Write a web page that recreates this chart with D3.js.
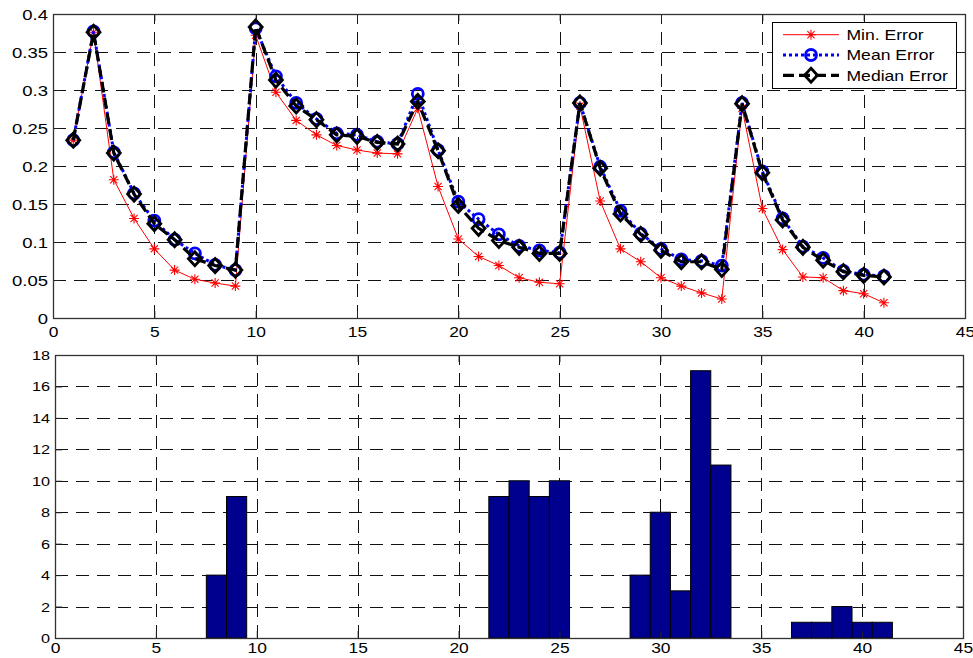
<!DOCTYPE html>
<html>
<head>
<meta charset="utf-8">
<script src="https://d3js.org/d3.v7.min.js"></script>
<style>
  html, body { margin: 0; padding: 0; background: #fff; }
  svg { display: block; }
  text { font-family: "Liberation Sans", Arial, Helvetica, sans-serif; fill: #000; }
</style>
</head>
<body>
<svg id="chart" width="973" height="658"></svg>
<script>
// ---------------- data ----------------
const iterations = [1,2,3,4,5,6,7,8,9,10,11,12,13,14,15,16,17,18,19,20,21,22,23,24,25,26,27,28,29,30,31,32,33,34,35,36,37,38,39,40,41];
const minError = [0.234,0.376,0.182,0.131,0.091,0.063,0.051,0.046,0.042,0.372,0.297,0.260,0.241,0.227,0.221,0.217,0.216,0.276,0.173,0.104,0.081,0.069,0.053,0.047,0.045,0.279,0.154,0.091,0.074,0.053,0.042,0.033,0.025,0.276,0.144,0.090,0.054,0.053,0.036,0.032,0.020];
const meanError = [0.234,0.377,0.218,0.164,0.128,0.103,0.085,0.070,0.063,0.381,0.318,0.283,0.262,0.243,0.241,0.232,0.229,0.295,0.221,0.153,0.130,0.110,0.095,0.089,0.086,0.283,0.199,0.141,0.111,0.091,0.077,0.075,0.069,0.283,0.193,0.131,0.094,0.079,0.062,0.057,0.055];
const medianError = [0.234,0.376,0.217,0.163,0.124,0.103,0.078,0.069,0.063,0.383,0.313,0.279,0.261,0.241,0.239,0.231,0.229,0.285,0.220,0.148,0.118,0.102,0.093,0.085,0.085,0.283,0.197,0.137,0.110,0.089,0.074,0.074,0.064,0.282,0.191,0.129,0.093,0.076,0.061,0.056,0.054];
const seriesNames = ["Min. Error", "Mean Error", "Median Error"];

const barCenters = [8,9,22,23,24,25,29,30,31,32,33,37,38,39,40,41];
const barCounts  = [4,9,9,10,9,10,4,8,3,17,11,1,1,2,1,1];

const xTicks = [0,5,10,15,20,25,30,35,40,45];
const topYTicks = [0,0.05,0.1,0.15,0.2,0.25,0.3,0.35,0.4];
const topYLabels = ["0","0.05","0.1","0.15","0.2","0.25","0.3","0.35","0.4"];
const botYTicks = [0,2,4,6,8,10,12,14,16,18];

// ---------------- helpers ----------------
const svg = d3.select("#chart");
function stretch(sel, f) {
  sel.each(function () {
    const L = this.getComputedTextLength();
    this.setAttribute("textLength", (L * f).toFixed(2));
    this.setAttribute("lengthAdjust", "spacingAndGlyphs");
  });
}
const gridColor = "#111";
const dash = "13,8";
const px = v => Math.round(v) + 0.5;

function drawFrame(g, x, y, yTicks) {
  const [x0, x1] = x.range();
  const [y0, y1] = y.range(); // y0 bottom, y1 top
  g.append("g").selectAll("line").data(xTicks.filter(t => t > x.domain()[0] && t < x.domain()[1]))
    .join("line")
    .attr("x1", d => px(x(d))).attr("x2", d => px(x(d)))
    .attr("y1", y0).attr("y2", y1)
    .attr("stroke", gridColor).attr("stroke-width", 1).attr("stroke-dasharray", dash)
    .attr("shape-rendering", "crispEdges");
  g.append("g").selectAll("line").data(yTicks.filter(t => t > y.domain()[0] && t < y.domain()[1]))
    .join("line")
    .attr("x1", x0).attr("x2", x1)
    .attr("y1", d => px(y(d))).attr("y2", d => px(y(d)))
    .attr("stroke", gridColor).attr("stroke-width", 1).attr("stroke-dasharray", dash)
    .attr("shape-rendering", "crispEdges");
}

function drawAxes(g, x, y, yTicks, yFmt, fsX, fsY, stX, stY, yLabelRight, xLabelBase) {
  const [x0, x1] = x.range();
  const [y0, y1] = y.range();
  const ax = g.append("g").attr("transform", `translate(0,${y0})`)
    .call(d3.axisBottom(x).tickValues(xTicks).tickSize(-7).tickPadding(0).tickFormat(d3.format("d")));
  ax.select(".domain").remove();
  ax.selectAll(".tick line").attr("stroke", "#222");
  ax.selectAll(".tick text").attr("y", xLabelBase - y0).attr("dy", null)
    .style("font-size", fsX + "px").style("font-family", "'Liberation Sans', Arial, sans-serif");
  stretch(ax.selectAll(".tick text"), stX);
  const axT = g.append("g").attr("transform", `translate(0,${y1})`)
    .call(d3.axisTop(x).tickValues(xTicks).tickSize(-7).tickFormat(""));
  axT.select(".domain").remove();
  axT.selectAll(".tick line").attr("stroke", "#222");
  const ay = g.append("g").attr("transform", `translate(${x0},0)`)
    .call(d3.axisLeft(y).tickValues(yTicks).tickSize(-7).tickPadding(0).tickFormat(yFmt));
  ay.select(".domain").remove();
  ay.selectAll(".tick line").attr("stroke", "#222");
  ay.selectAll(".tick text").attr("x", yLabelRight - x0).attr("dy", "0.36em")
    .style("font-size", fsY + "px").style("font-family", "'Liberation Sans', Arial, sans-serif");
  stretch(ay.selectAll(".tick text"), stY);
  const ayR = g.append("g").attr("transform", `translate(${x1},0)`)
    .call(d3.axisRight(y).tickValues(yTicks).tickSize(-7).tickFormat(""));
  ayR.select(".domain").remove();
  ayR.selectAll(".tick line").attr("stroke", "#222");
  g.append("rect").attr("x", px(x0)).attr("y", px(y1)).attr("width", Math.round(x1 - x0)).attr("height", Math.round(y0 - y1))
    .attr("fill", "none").attr("stroke", "#333").attr("stroke-width", 1.3);
}

// ---------------- top plot ----------------
const xTop = d3.scaleLinear().domain([0, 45]).range([53, 965]);
const yTop = d3.scaleLinear().domain([0, 0.4]).range([318, 14]);
const gTop = svg.append("g");
drawFrame(gTop, xTop, yTop, topYTicks);

const starPath = (h) => {
  const k = h * 0.72;
  return `M${-h},0L${h},0M0,${-h}L0,${h}M${-k},${-k}L${k},${k}M${-k},${k}L${k},${-k}`;
};
const diamondPath = (h) => `M0,${-h}L${h * 0.92},0L0,${h}L${-h * 0.92},0Z`;

const lineGen = (vals) => d3.line().x((d, i) => xTop(iterations[i])).y(d => yTop(d))(vals);

gTop.append("path").attr("d", lineGen(minError)).attr("fill", "none")
  .attr("stroke", "#ff0000").attr("stroke-width", 1);
gTop.append("g").selectAll("path").data(minError).join("path")
  .attr("transform", (d, i) => `translate(${xTop(iterations[i])},${yTop(d)})`)
  .attr("d", starPath(5)).attr("stroke", "#ff0000").attr("stroke-width", 1.1).attr("fill", "none");

gTop.append("path").attr("d", lineGen(meanError)).attr("fill", "none")
  .attr("stroke", "#0000ff").attr("stroke-width", 3).attr("stroke-dasharray", "3,3");
gTop.append("g").selectAll("circle").data(meanError).join("circle")
  .attr("cx", (d, i) => xTop(iterations[i])).attr("cy", d => yTop(d)).attr("r", 5.5)
  .attr("fill", "none").attr("stroke", "#0000ff").attr("stroke-width", 2.8);

gTop.append("path").attr("d", lineGen(medianError)).attr("fill", "none")
  .attr("stroke", "#000").attr("stroke-width", 3.2).attr("stroke-dasharray", "11,5");
gTop.append("g").selectAll("path").data(medianError).join("path")
  .attr("transform", (d, i) => `translate(${xTop(iterations[i])},${yTop(d)})`)
  .attr("d", diamondPath(7)).attr("stroke", "#000").attr("stroke-width", 2.8).attr("fill", "none");

drawAxes(gTop, xTop, yTop, topYTicks, (d, i) => topYLabels[i], 14.5, 14, 1.2, 1.32, 48, 337);

// legend
const lg = gTop.append("g");
lg.append("rect").attr("x", 772.5).attr("y", 22.5).attr("width", 184).attr("height", 66)
  .attr("fill", "#fff").attr("stroke", "#000").attr("stroke-width", 1);
const rowsY = [34.7, 55, 75.3];
const lx0 = 783, lx1 = 839, lxm = 811, ltx = 846.5;
lg.append("line").attr("x1", lx0).attr("x2", lx1).attr("y1", rowsY[0]).attr("y2", rowsY[0])
  .attr("stroke", "#ff0000").attr("stroke-width", 1);
lg.append("path").attr("transform", `translate(${lxm},${rowsY[0]})`).attr("d", starPath(5))
  .attr("stroke", "#ff0000").attr("stroke-width", 1.1).attr("fill", "none");
lg.append("line").attr("x1", lx0).attr("x2", lx1).attr("y1", rowsY[1]).attr("y2", rowsY[1])
  .attr("stroke", "#0000ff").attr("stroke-width", 3).attr("stroke-dasharray", "3,3");
lg.append("circle").attr("cx", lxm).attr("cy", rowsY[1]).attr("r", 5.5)
  .attr("fill", "none").attr("stroke", "#0000ff").attr("stroke-width", 2.8);
lg.append("line").attr("x1", lx0).attr("x2", lx1).attr("y1", rowsY[2]).attr("y2", rowsY[2])
  .attr("stroke", "#000").attr("stroke-width", 3.2).attr("stroke-dasharray", "11,5");
lg.append("path").attr("transform", `translate(${lxm},${rowsY[2]})`).attr("d", diamondPath(7))
  .attr("stroke", "#000").attr("stroke-width", 2.8).attr("fill", "none");
const lt = lg.selectAll("text.leg").data(seriesNames).join("text").attr("class", "leg")
  .attr("x", ltx).attr("y", (d, i) => rowsY[i]).attr("dy", "0.36em")
  .style("font-size", "15px").text(d => d);
stretch(lt, 1.17);

// ---------------- bottom plot ----------------
const xBot = d3.scaleLinear().domain([0, 45]).range([55, 963]);
const yBot = d3.scaleLinear().domain([0, 18]).range([638, 355]);
const gBot = svg.append("g");
drawFrame(gBot, xBot, yBot, botYTicks);
gBot.append("g").selectAll("rect").data(barCenters).join("rect")
  .attr("x", d => xBot(d - 0.5)).attr("width", d => xBot(d + 0.5) - xBot(d - 0.5))
  .attr("y", (d, i) => yBot(barCounts[i])).attr("height", (d, i) => yBot(0) - yBot(barCounts[i]))
  .attr("fill", "#00008f").attr("stroke", "#000").attr("stroke-width", 1);
drawAxes(gBot, xBot, yBot, botYTicks, d3.format("d"), 14.5, 12.5, 1.2, 1.3, 50, 653);
</script>
</body>
</html>
